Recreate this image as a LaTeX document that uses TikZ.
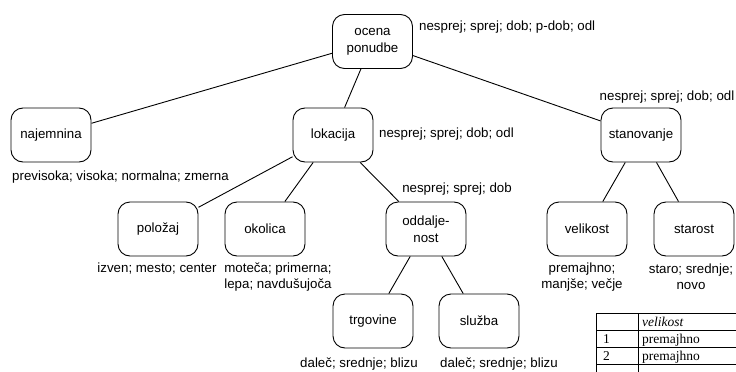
\documentclass[tikz,border=0pt]{standalone}
\usepackage{fontspec}
\setmainfont{Liberation Sans}
\newfontfamily\tabfont{Liberation Serif}
\begin{document}
\begin{tikzpicture}[x=1pt,y=-1pt,
  attr/.style={draw, rounded corners=12pt, line width=0.9pt, minimum width=80pt,
    minimum height=54pt, inner sep=0pt, align=center,
    font=\fontsize{13.3}{17}\selectfont},
  vals/.style={inner sep=0pt, align=center, font=\fontsize{13.3}{16}\selectfont},
  edge/.style={line width=0.9pt},
  rule/.style={line width=0.8pt},
  cell/.style={inner sep=0pt, anchor=base west, font=\tabfont\fontsize{13.5}{15}\selectfont}
]
\useasboundingbox (0,0) rectangle (736,372);

% attribute tree
\node[attr] (ocena) at (372.5,41.5) {ocena\\ponudbe};
\node[attr] (najem) at (51,135) {najemnina};
\node[attr] (lok)   at (333,135) {lokacija};
\node[attr] (stan)  at (641,135) {stanovanje};
\node[attr] (pol)   at (158,229) {položaj};
\node[attr] (okol)  at (265,229) {okolica};
\node[attr] (odd)   at (426,229) {oddalje-\\nost};
\node[attr] (vel)   at (587,229) {velikost};
\node[attr] (star)  at (694,229) {starost};
\node[attr] (trg)   at (373,321) {trgovine};
\node[attr] (sluz)  at (479,321) {služba};

\draw[edge] (ocena) -- (najem);
\draw[edge] (ocena) -- (lok);
\draw[edge] (ocena) -- (stan);
\draw[edge] (lok) -- (pol);
\draw[edge] (lok) -- (okol);
\draw[edge] (lok) -- (odd);
\draw[edge] (odd) -- (trg);
\draw[edge] (odd) -- (sluz);
\draw[edge] (stan) -- (vel);
\draw[edge] (stan) -- (star);

% value scales
\node[vals, anchor=west] (vOcena) at (419,27) {nesprej; sprej; dob; p-dob; odl};
\node[vals, anchor=west] (vNajem) at (12,177) {previsoka; visoka; normalna; zmerna};
\node[vals, anchor=west] (vLok)   at (379,134) {nesprej; sprej; dob; odl};
\node[vals] (vStan) at (667,97)  {nesprej; sprej; dob; odl};
\node[vals] (vOdd)  at (457,189) {nesprej; sprej; dob};
\node[vals] (vPol)  at (157,269) {izven; mesto; center};
\node[vals] (vOkol) at (278,277) {moteča; primerna;\\lepa; navdušujoča};
\node[vals] (vVel)  at (582,277) {premajhno;\\manjše; večje};
\node[vals] (vStar) at (691,277) {staro; srednje;\\novo};
\node[vals] (vTrg)  at (359,364) {daleč; srednje; blizu};
\node[vals] (vSluz) at (499,364) {daleč; srednje; blizu};

% example table
\draw[rule] (596,313) -- (736,313);
\draw[rule] (596,330) -- (736,330);
\draw[rule] (596,347) -- (736,347);
\draw[rule] (596,364) -- (736,364);
\draw[rule] (596.5,313) -- (596.5,372);
\draw[rule] (638.5,313) -- (638.5,372);
\node[cell] (hVel) at (642,326.5) {\itshape velikost};
\node[cell] (r1)   at (603,343.5) {1};
\node[cell] (r1v)  at (642,343.5) {premajhno};
\node[cell] (r2)   at (603,360.5) {2};
\node[cell] (r2v)  at (642,360.5) {premajhno};
\end{tikzpicture}
\end{document}
